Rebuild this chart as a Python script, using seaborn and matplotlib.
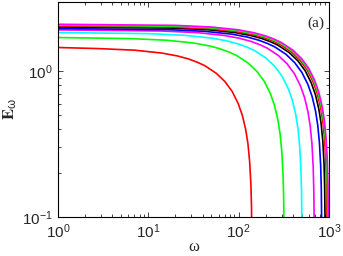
import numpy as np
import pandas as pd
import matplotlib
matplotlib.use("Agg")
import matplotlib.pyplot as plt
import seaborn as sns

# curve data (omega, E_omega)
w1 = [1, 2.82, 7.05, 14.1, 21.15, 28.2, 35.25, 42.3, 56.4, 70.5, 84.6, 98.7, 110.0, 119.9, 126.9, 132.5, 136.8, 138.9, 140.3]
e1 = [1.46, 1.435, 1.399, 1.337, 1.276, 1.215, 1.153, 1.094, 0.972, 0.851, 0.730, 0.603, 0.498, 0.397, 0.317, 0.239, 0.166, 0.117, 0.067]

w2 = [1, 6.4, 16, 32, 48, 64, 80, 96, 128, 160, 192, 224, 249.6, 272, 288, 300.8, 310.4, 315.2, 318.4]
e2 = [1.71, 1.681, 1.638, 1.566, 1.495, 1.423, 1.351, 1.281, 1.139, 0.997, 0.855, 0.706, 0.583, 0.465, 0.371, 0.280, 0.195, 0.137, 0.079]

w3 = [1, 10.1, 25.25, 50.5, 75.75, 101, 126.25, 151.5, 202, 252.5, 303, 353.5, 393.9, 429.25, 454.5, 474.7, 489.85, 497.4, 502.5]
e3 = [1.85, 1.819, 1.772, 1.695, 1.617, 1.539, 1.462, 1.386, 1.232, 1.079, 0.925, 0.764, 0.631, 0.503, 0.401, 0.303, 0.211, 0.148, 0.085]

w4 = [1, 13.8, 34.5, 69, 103.5, 138, 172.5, 207, 276, 345, 414, 483, 538.2, 586.5, 621, 648.6, 669.3, 679.65, 686.55]
e4 = [1.93, 1.897, 1.849, 1.768, 1.687, 1.606, 1.525, 1.446, 1.285, 1.125, 0.965, 0.797, 0.658, 0.525, 0.419, 0.317, 0.220, 0.154, 0.089]

w5 = [1, 16.7, 41.75, 83.5, 125.25, 167, 208.75, 250.5, 334, 417.5, 501, 584.5, 651.3, 709.75, 751.5, 784.9, 809.95, 822.5, 830.8]
e5 = [1.97, 1.937, 1.887, 1.805, 1.722, 1.639, 1.556, 1.476, 1.312, 1.149, 0.985, 0.814, 0.672, 0.536, 0.427, 0.323, 0.225, 0.158, 0.091]

w6 = [1, 18.2, 45.5, 91, 136.5, 182, 227.5, 273, 364, 455, 546, 637, 709.8, 773.5, 819, 855.4, 882.7, 896.35, 905.45]
e6 = [2.02, 1.986, 1.935, 1.850, 1.765, 1.681, 1.596, 1.513, 1.345, 1.178, 1.010, 0.834, 0.689, 0.549, 0.438, 0.331, 0.230, 0.162, 0.093]

w7 = [1, 19.1, 47.75, 95.5, 143.25, 191, 238.75, 286.5, 382, 477.5, 573, 668.5, 744.9, 811.75, 859.5, 897.7, 926.35, 940.7, 950.2]
e7 = [2.05, 2.015, 1.964, 1.878, 1.792, 1.706, 1.620, 1.535, 1.365, 1.195, 1.025, 0.847, 0.699, 0.558, 0.445, 0.336, 0.234, 0.164, 0.094]

w8 = [1, 19.5, 48.75, 97.5, 146.25, 195, 243.75, 292.5, 390, 487.5, 585, 682.5, 760.5, 828.75, 877.5, 916.5, 945.75, 960.4, 970.1]
e8 = [2.08, 2.045, 1.993, 1.905, 1.818, 1.731, 1.643, 1.558, 1.385, 1.213, 1.040, 0.859, 0.709, 0.566, 0.451, 0.341, 0.237, 0.166, 0.096]

w9 = [1, 19.8, 49.5, 99, 148.5, 198, 247.5, 297, 396, 495, 594, 693, 772.2, 841.5, 891, 930.6, 960.3, 975.15, 985.05]
e9 = [2.11, 2.074, 2.021, 1.933, 1.844, 1.756, 1.667, 1.580, 1.405, 1.230, 1.055, 0.871, 0.720, 0.574, 0.458, 0.346, 0.241, 0.169, 0.097]

colors = ["#ff0000", "#00ff00", "#00ffff", "#ff00ff", "#0000ff", "#000000",
          "#ff0000", "#00ff00", "#ff00ff"]

ws = [w1, w2, w3, w4, w5, w6, w7, w8, w9]
es = [e1, e2, e3, e4, e5, e6, e7, e8, e9]
df = pd.concat([pd.DataFrame({"w": w, "E": e, "curve": i}) for i, (w, e) in enumerate(zip(ws, es))])

sns.set_style("ticks")
plt.rcParams["font.family"] = ["Liberation Sans", "DejaVu Sans"]
plt.rcParams["mathtext.fontset"] = "stix"
plt.rcParams["mathtext.default"] = "regular"

fig = plt.figure(figsize=(3.43, 2.56), dpi=100)
ax = fig.add_axes([0.169, 0.1535, 0.79, 0.8385])

sns.lineplot(data=df, x="w", y="E", hue="curve", palette=colors, sort=False,
             estimator=None, legend=False, linewidth=1.2, ax=ax)

ax.set_xscale("log")
ax.set_yscale("log")
ax.set_xlim(1, 1000)
ax.set_ylim(0.1, 3)
ax.set_xticks([1, 10, 100, 1000])
ax.set_xticklabels([r"$10^{0}$", r"$10^{1}$", r"$10^{2}$", r"$10^{3}$"])
ax.set_yticks([0.1, 1])
ax.set_yticklabels([r"$10^{-1}$", r"$10^{0}$"])
ax.tick_params(which="both", direction="in", top=True, right=True, labelsize=11, width=0.6)
ax.tick_params(which="major", length=3.5, pad=4)
ax.tick_params(which="minor", length=2)
for s in ax.spines.values():
    s.set_linewidth(0.8)
    s.set_color("black")

ax.set_xlabel("ω", family="Liberation Serif", fontsize=12, labelpad=-1)
ax.set_ylabel(r"$\mathbf{E}_{\omega}$", fontsize=12, labelpad=2)
ax.text(0.982, 0.9, "(a)", transform=ax.transAxes, ha="right", va="center",
        family="Liberation Serif", fontsize=11)

fig.savefig("out.png", dpi=100)
